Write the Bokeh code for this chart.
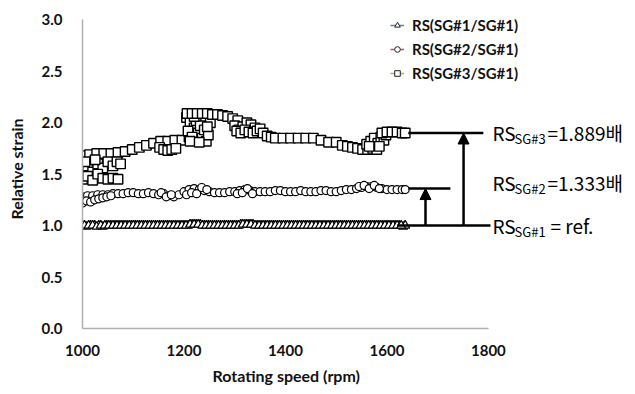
from bokeh.plotting import figure
from bokeh.models import (Arrow, NormalHead, Label, Legend, LegendItem, FixedTicker,
                          NumeralTickFormatter, Range1d, Title)
from bokeh.embed import file_html
from bokeh.resources import INLINE

# ---------------- data ----------------
rpm_sg1 = [1000,1008,1016,1024,1032,1040,1048,1056,1064,1072,1080,1088,1096,1104,1112,1120,1128,1136,1144,1152,
           1160,1168,1176,1184,1192,1200,1208,1216,1224,1232,1240,1248,1256,1264,1272,1280,1288,1296,1304,1312,
           1320,1328,1336,1344,1352,1360,1368,1376,1384,1392,1400,1408,1416,1424,1432,1440,1448,1456,1464,1472,
           1480,1488,1496,1504,1512,1520,1528,1536,1544,1552,1560,1568,1576,1584,1592,1600,1608,1616,1624,1632,1636,
           1004,1012,1020,1028,1036,1044,1052,1060,1068,1076,1084,1092,1100,1108,1116,1124,1132,1140,1148,1156,
           1164,1172,1180,1188,1196,1204,1212,1220,1228,1236,1244,1252,1260,1268,1276,1284,1292,1300,1308,1316,
           1324,1332,1340,1348,1356,1364,1372,1380,1388,1396,1404,1412,1420,1428,1436,1444,1452,1460,1468,1476,
           1484,1492,1500,1508,1516,1524,1532,1540,1548,1556,1564,1572,1580,1588,1596,1604,1612,1620,1628]
rs_sg1 = [1.00,0.99,1.00,1.00,1.00,0.99,1.00,1.00,1.00,1.00,
          1.00,1.00,1.00,1.00,1.00,1.00,1.00,1.00,1.00,1.00,
          1.00,1.00,1.00,1.00,1.00,1.00,1.00,1.01,1.01,1.01,
          1.00,1.00,1.00,1.00,1.00,1.00,1.00,1.00,1.00,1.01,
          1.01,1.01,1.01,1.00,1.00,1.00,1.00,1.00,1.00,1.00,
          1.00,1.00,1.00,1.00,1.00,1.00,1.00,1.00,1.00,1.00,
          1.00,1.00,1.00,1.00,1.00,1.00,1.00,1.00,1.00,1.00,
          1.00,1.00,1.00,1.00,1.00,1.00,1.00,1.00,1.00,0.99,
          1.00,
          1.00,1.00,1.00,0.99,1.00,1.00,1.00,1.00,1.00,1.00,
          1.00,1.00,1.00,1.00,1.00,1.00,1.00,1.00,1.00,1.00,
          1.00,1.00,1.00,1.00,1.00,1.00,1.01,1.01,1.01,1.00,
          1.00,1.00,1.00,1.00,1.00,1.00,1.00,1.00,1.00,1.01,
          1.01,1.01,1.00,1.00,1.00,1.00,1.00,1.00,1.00,1.00,
          1.00,1.00,1.00,1.00,1.00,1.00,1.00,1.00,1.00,1.00,
          1.00,1.00,1.00,1.00,1.00,1.00,1.00,1.00,1.00,1.00,
          1.00,1.00,1.00,1.00,1.00,1.00,1.00,1.00,1.00]

rpm_sg2 = [1000,1010,1020,1030,1040,1050,1060,1070,1080,1090,
           1100,1110,1120,1130,1140,1150,1160,1170,1180,1190,
           1200,1210,1220,1230,1240,1250,1260,1270,1280,1290,
           1300,1310,1320,1330,1340,1350,1360,1370,1380,1390,
           1400,1410,1420,1430,1440,1450,1460,1470,1480,1490,
           1500,1510,1520,1530,1540,1550,1560,1570,1580,1590,
           1600,1610,1620,1630,1636,
           1000,1008,1016,1024,1032,1040,1048,1056,
           1155,1165,1175,1205,1215,1225,1235,1245,1305,1315,1325,1335,
           1545,1555,1565,1575,1585]
rs_sg2 = [1.28,1.29,1.29,1.30,1.30,1.30,1.31,1.31,1.31,1.32,
          1.32,1.31,1.31,1.32,1.31,1.30,1.31,1.29,1.28,1.30,
          1.33,1.35,1.36,1.35,1.34,1.33,1.32,1.32,1.32,1.33,
          1.33,1.34,1.35,1.34,1.33,1.33,1.33,1.33,1.34,1.34,
          1.33,1.33,1.33,1.34,1.33,1.33,1.33,1.34,1.34,1.33,
          1.33,1.34,1.35,1.35,1.36,1.37,1.38,1.38,1.37,1.36,
          1.35,1.35,1.35,1.35,1.35,
          1.22,1.24,1.23,1.25,1.26,1.27,1.28,1.29,
          1.32,1.28,1.30,1.30,1.32,1.31,1.37,1.35,1.31,1.32,1.36,1.31,
          1.38,1.39,1.36,1.39,1.36]

rpm_sg3 = [1000,1014,1028,1042,1056,1070,1084,1098,1112,1126,1140,1154,1168,1182,1196,1210,
           1152,1160,1168,1176,1184,
           1000,1010,1020,1030,1040,1050,1060,1068,1075,1005,1025,
           1000,1010,1020,1030,1040,1050,1060,1070,
           1205,1212,1220,1228,1236,1244,1208,1216,1224,1232,1240,1248,1252,1212,1230,1246,1220,
           1206,1216,1226,1236,1246,1256,1266,1276,1286,1296,1306,
           1300,1308,1316,1324,1332,1340,1304,1312,1320,1328,1336,1344,1350,
           1356,1364,1372,1380,1395,1410,1425,1440,1455,1470,1485,1500,1512,1522,1532,1542,1552,1562,1572,1580,
           1560,1568,1575,1582,1588,1594,1598,1565,1585,
           1590,1600,1610,1620,1630,1636]
rs_sg3 = [1.68,1.69,1.70,1.70,1.70,1.71,1.72,1.74,1.76,1.78,1.80,1.82,1.82,1.83,1.83,1.86,
          1.76,1.74,1.73,1.74,1.75,
          1.55,1.58,1.52,1.60,1.56,1.62,1.58,1.62,1.60,1.62,1.64,
          1.45,1.48,1.44,1.50,1.46,1.45,1.46,1.45,
          2.05,2.00,1.95,1.90,1.85,1.82,1.92,1.86,2.02,1.97,1.93,1.88,2.00,1.82,1.81,1.96,2.06,
          2.09,2.09,2.09,2.09,2.09,2.08,2.08,2.07,2.06,2.04,2.02,
          1.97,1.93,1.96,2.00,1.98,1.95,1.92,1.90,1.93,1.91,1.90,1.92,1.94,
          1.90,1.87,1.86,1.85,1.85,1.85,1.85,1.85,1.85,1.83,1.81,1.81,1.78,1.77,1.76,1.75,1.74,1.74,1.75,1.74,
          1.79,1.82,1.85,1.80,1.86,1.83,1.88,1.77,1.77,
          1.90,1.91,1.91,1.91,1.90,1.90]

series_names = ["RS(SG#1/SG#1)", "RS(SG#2/SG#1)", "RS(SG#3/SG#1)"]
ref_levels = [1.0, 1.36, 1.9]
ref_subs = ["SG#1", "SG#2", "SG#3"]
ref_texts = ["= ref.", "=1.333배", "=1.889배"]
x_ticks = [1000, 1200, 1400, 1600, 1800]
y_ticks = [0.0, 0.5, 1.0, 1.5, 2.0, 2.5, 3.0]
x_title = "Rotating speed (rpm)"
y_title = "Relative strain"

NAN = float("nan")

# ---------------- figure ----------------
p = figure(width=635, height=394, x_range=Range1d(1000, 2080), y_range=Range1d(0, 3.1),
           output_backend="svg", toolbar_location=None,
           min_border_left=82, min_border_right=5, min_border_top=9, min_border_bottom=66)
p.outline_line_color = None
p.xgrid.visible = False
p.ygrid.visible = False
p.background_fill_color = "white"

TICK_FONT = "Lato"
for ax in (p.xaxis[0], p.yaxis[0]):
    ax.axis_line_color = "#b0b0b0"
    ax.axis_line_width = 1.5
    ax.major_tick_line_color = None
    ax.minor_tick_line_color = None
    ax.major_tick_out = 0
    ax.major_tick_in = 0
    ax.minor_tick_out = 0
    ax.major_label_text_font = TICK_FONT
    ax.major_label_text_font_style = "bold"
    ax.major_label_text_font_size = "15px"
    ax.major_label_text_color = "#111111"
    ax.axis_label_text_font = TICK_FONT
    ax.axis_label_text_font_style = "bold"
    ax.axis_label_text_font_size = "16px"
    ax.axis_label_text_color = "#111111"

p.xaxis.ticker = FixedTicker(ticks=x_ticks)
p.xaxis.bounds = (1000, 1800)
p.xaxis.major_label_standoff = 16

p.yaxis.ticker = FixedTicker(ticks=y_ticks)
p.yaxis.bounds = (0, 3)
p.yaxis.formatter = NumeralTickFormatter(format="0.0")
p.yaxis.major_label_standoff = 20
p.yaxis.axis_label = y_title
p.yaxis.axis_label_standoff = 13

# x-axis title centred under the 1000-1800 axis line
p.add_layout(Title(text=x_title, align="left", offset=130, standoff=10, text_font=TICK_FONT,
                   text_font_style="bold", text_font_size="16px", text_color="#111111"), "below")

r1 = p.scatter(rpm_sg1, rs_sg1, marker="triangle", size=9, fill_color="white",
               line_color="black", line_width=1.2)
r2 = p.scatter(rpm_sg2, rs_sg2, marker="circle", size=8, fill_color="white",
               line_color="black", line_width=1.2)
r3 = p.scatter(rpm_sg3, rs_sg3, marker="square", size=9.5, fill_color="white",
               line_color="black", line_width=1.4)

# legend glyphs (coloured line + small black marker, Excel style)
leg_colors = ["#4F81BD", "#C0504D", "#9BBB59"]
leg_markers = ["triangle", "circle", "square"]
items = []
for name, col, mk in zip(series_names, leg_colors, leg_markers):
    ln = p.line([NAN], [NAN], line_color=col, line_width=1.5)
    sc = p.scatter([NAN], [NAN], marker=mk, size=7, fill_color="white",
                   line_color="#222222", line_width=1)
    items.append(LegendItem(label=name, renderers=[ln, sc]))

legend = Legend(items=items, location=(308, 245), padding=0, margin=0, spacing=4,
                glyph_width=14, glyph_height=20, label_height=20, label_standoff=8,
                border_line_color=None, background_fill_alpha=0,
                label_text_font=TICK_FONT, label_text_font_style="bold",
                label_text_font_size="15px", label_text_color="#111111")
p.add_layout(legend, "center")

# annotation lines
seg_x0 = [1620, 1642, 1642]
seg_x1 = [1804, 1725, 1790]
p.segment(x0=seg_x0, y0=ref_levels, x1=seg_x1, y1=ref_levels, line_color="black", line_width=2.5)

arrow_x = [1676, 1751]
for ax_, lvl in zip(arrow_x, ref_levels[1:]):
    p.add_layout(Arrow(end=NormalHead(size=11, fill_color="black", line_color="black", line_width=1),
                       x_start=ax_, y_start=ref_levels[0], x_end=ax_, y_end=lvl,
                       line_color="black", line_width=2.5))

ANN_FONT = "Noto Sans CJK KR"
text_x = 1808
text_dy = [0, 6, 0]
text_dx = [58, 55, 55]
for lvl, sub, txt, dy, dx in zip(ref_levels, ref_subs, ref_texts, text_dy, text_dx):
    p.add_layout(Label(x=text_x, y=lvl, y_offset=dy, text="RS", text_baseline="middle",
                       text_font=ANN_FONT, text_font_size="19px", text_color="black"))
    p.add_layout(Label(x=text_x, y=lvl, x_offset=22, y_offset=dy - 6, text=sub,
                       text_baseline="middle", text_font=ANN_FONT, text_font_size="13px",
                       text_color="black"))
    p.add_layout(Label(x=text_x, y=lvl, x_offset=dx, y_offset=dy, text=txt,
                       text_baseline="middle", text_font=ANN_FONT, text_font_size="19px",
                       text_color="black"))

open("out.html", "w").write(file_html(p, INLINE))
